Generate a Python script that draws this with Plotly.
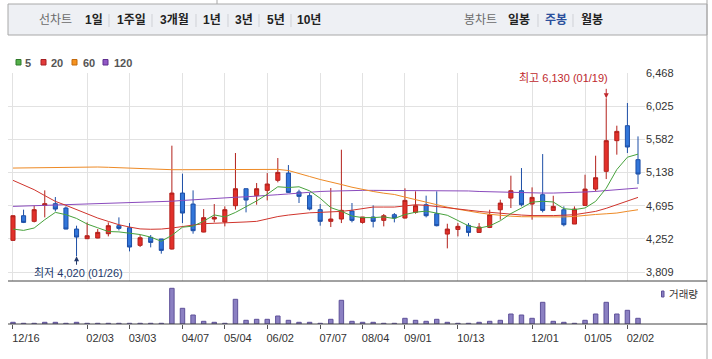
import plotly.graph_objects as go

# ---------------- data ----------------
weeks = list(range(60))
tick_idx = [0, 7, 11, 16, 20, 24, 29, 33, 37, 42, 49, 54, 58]
tick_text = ["12/16", "02/03", "03/03", "04/07", "05/04", "06/02", "07/07",
             "08/04", "09/01", "10/13", "12/01", "01/05", "02/02"]

opens = [4232, 4561, 4486, 4699, 4722, 4664, 4383, 4254, 4263, 4321,
         4428, 4401, 4165, 4272, 4250, 4116, 4864, 4717, 4343, 4517,
         4477, 4695, 4922, 4829, 4900, 5034, 5131, 4878, 4829, 4642,
         4486, 4517, 4624, 4472, 4544, 4499, 4575, 4530, 4606, 4708,
         4588, 4316, 4378, 4432, 4338, 4405, 4641, 4797, 4895, 4717,
         4842, 4632, 4641, 4450, 4699, 4917, 5154, 5564, 5764, 5310]
highs = [4565, 4642, 4695, 4900, 4811, 4686, 4428, 4472, 4383, 4472,
         4539, 4463, 4303, 4303, 4250, 5497, 5123, 4900, 4650, 4717,
         4686, 5399, 4922, 4998, 5131, 5332, 5238, 4909, 4864, 4717,
         4931, 5443, 4731, 4544, 4700, 4584, 4597, 4927, 4887, 4829,
         4887, 4454, 4463, 4463, 4463, 4641, 4775, 5096, 5198, 4940,
         5385, 4828, 4686, 4686, 5109, 5363, 6130, 5764, 6067, 5621]
lows = [4225, 4463, 4472, 4539, 4619, 4380, 4020, 4250, 4260, 4285,
        4365, 4085, 4143, 4138, 4054, 4110, 4463, 4321, 4340, 4472,
        4419, 4642, 4606, 4708, 4766, 5007, 4864, 4731, 4633, 4428,
        4410, 4463, 4472, 4455, 4405, 4419, 4472, 4525, 4588, 4539,
        4419, 4125, 4285, 4285, 4335, 4396, 4508, 4664, 4686, 4508,
        4606, 4630, 4419, 4450, 4699, 4886, 5051, 5377, 5399, 4984]
closes = [4561, 4472, 4642, 4722, 4650, 4383, 4276, 4294, 4339, 4428,
          4392, 4143, 4267, 4205, 4098, 4864, 4597, 4361, 4535, 4539,
          4642, 4922, 4771, 4922, 4985, 5140, 4873, 4820, 4650, 4486,
          4517, 4633, 4499, 4544, 4486, 4561, 4530, 4766, 4695, 4561,
          4428, 4383, 4419, 4338, 4410, 4575, 4730, 4895, 4708, 4806,
          4632, 4686, 4441, 4650, 4917, 5069, 5564, 5688, 5479, 5118]

ma5 = [4383, 4365, 4397, 4508, 4606, 4575, 4525, 4450, 4400, 4350,
       4345, 4325, 4310, 4275, 4220, 4300, 4408, 4422, 4488, 4572,
       4545, 4605, 4682, 4759, 4848, 4948, 4938, 4948, 4894, 4794,
       4669, 4621, 4557, 4536, 4536, 4545, 4524, 4577, 4608, 4623,
       4596, 4567, 4497, 4426, 4396, 4425, 4494, 4590, 4664, 4743,
       4754, 4745, 4655, 4643, 4665, 4753, 4928, 5178, 5343, 5384]
ma20 = [5034, 4970, 4909, 4830, 4753, 4700, 4642, 4585, 4530, 4485,
        4441, 4410, 4385, 4380, 4383, 4397, 4419, 4437, 4455, 4460,
        4463, 4472, 4478, 4486, 4520, 4550, 4570, 4590, 4600, 4606,
        4612, 4619, 4635, 4655, 4677, 4677, 4677, 4692, 4708, 4700,
        4686, 4668, 4650, 4635, 4619, 4605, 4592, 4580, 4570, 4563,
        4561, 4563, 4568, 4575, 4597, 4619, 4660, 4708, 4757, 4806]
ma60 = [5198, 5200, 5203, 5206, 5208, 5210, 5212, 5212, 5212, 5208,
        5203, 5198, 5190, 5180, 5176, 5176, 5176, 5176, 5176, 5176,
        5178, 5180, 5183, 5185, 5185, 5180, 5165, 5130, 5085, 5045,
        5015, 4978, 4942, 4909, 4885, 4862, 4845, 4810, 4775, 4740,
        4710, 4675, 4648, 4620, 4600, 4580, 4565, 4555, 4548, 4545,
        4543, 4543, 4545, 4552, 4570, 4578, 4587, 4597, 4620, 4641]
ma120 = [4686, 4690, 4695, 4700, 4705, 4709, 4713, 4717, 4721, 4725,
         4729, 4731, 4738, 4745, 4750, 4755, 4765, 4775, 4785, 4795,
         4800, 4808, 4814, 4820, 4830, 4842, 4852, 4865, 4875, 4885,
         4890, 4895, 4898, 4900, 4900, 4900, 4900, 4900, 4900, 4900,
         4900, 4898, 4895, 4892, 4885, 4880, 4876, 4872, 4868, 4865,
         4864, 4864, 4866, 4870, 4878, 4886, 4895, 4907, 4919, 4931]

volume = [17, 7, 7, 17, 17, 7, 17, 7, 7, 7,
          7, 7, 7, 7, 7, 357, 157, 90, 27, 17,
          7, 247, 37, 47, 47, 80, 37, 17, 17, 7,
          47, 237, 27, 17, 17, 7, 7, 57, 37, 27,
          47, 17, 7, 7, 17, 27, 37, 100, 90, 57,
          217, 27, 17, 7, 37, 100, 217, 100, 137, 57]

y_ticks = [3809, 4252, 4695, 5138, 5582, 6025, 6468]
y_tick_text = ["3,809", "4,252", "4,695", "5,138", "5,582", "6,025", "6,468"]

ma_names = ["5", "20", "60", "120"]
ma_colors = ["#47a23c", "#d0342c", "#ee8a25", "#8a4bbd"]
ma_fill = ["#55b04a", "#e23a3a", "#f5921f", "#9258c6"]
ma_edge = ["#2f7a2a", "#a51f22", "#c26a0c", "#5f2f8f"]

toolbar_left = ["1일", "1주일", "3개월", "1년", "3년", "5년", "10년"]
toolbar_right = ["일봉", "주봉", "월봉"]

# ---------------- layout helpers ----------------
W, H = 712, 359
L, R, T, B = 8, 67, 73, 35
PW = W - L - R
PH = H - T - B


def fx(x):
    return (x - L) / PW


def fy(y):
    return (H - B - y) / PH


split = fy(281)
FONT = "Liberation Sans, Arial, Noto Sans CJK KR"
KFONT = "Liberation Sans, Noto Sans CJK KR"

fig = go.Figure()

for vals, col in zip([ma120, ma60, ma20, ma5], ma_colors[::-1]):
    fig.add_trace(go.Scatter(x=weeks, y=vals, mode="lines",
                             line=dict(color=col, width=1),
                             xaxis="x", yaxis="y", hoverinfo="skip"))

fig.add_trace(go.Candlestick(
    x=weeks, open=opens, high=highs, low=lows, close=closes,
    increasing=dict(line=dict(color="#b3201b", width=1), fillcolor="#e2302a"),
    decreasing=dict(line=dict(color="#1d4fa6", width=1), fillcolor="#3276da"),
    whiskerwidth=0, xaxis="x", yaxis="y"))

fig.add_trace(go.Bar(x=weeks, y=volume, width=0.42,
                     marker=dict(color="#8b80c2", line=dict(color="#5e5199", width=1)),
                     xaxis="x2", yaxis="y2", hoverinfo="skip"))

xr = [-0.47, 59.66]
fig.update_layout(
    template="none",
    width=W, height=H,
    margin=dict(l=L, r=R, t=T, b=B, pad=0),
    paper_bgcolor="white", plot_bgcolor="white",
    showlegend=False,
    boxgap=0.45,
    xaxis=dict(domain=[0, 1], anchor="y", range=xr, tickmode="array",
               tickvals=tick_idx, showticklabels=False, showgrid=True,
               gridcolor="#e2e2e2", gridwidth=1, zeroline=False, ticks="",
               showline=False, automargin=False,
               rangeslider=dict(visible=False)),
    yaxis=dict(domain=[split, 1], anchor="x", side="right", range=[3689, 6468],
               tickmode="array", tickvals=y_ticks, ticktext=y_tick_text,
               showgrid=True, gridcolor="#e2e2e2", zeroline=False, ticks="",
               showline=False, automargin=False,
               tickfont=dict(family=FONT, size=11, color="#333333")),
    xaxis2=dict(domain=[0, 1], anchor="y2", range=xr, tickmode="array",
                tickvals=tick_idx, ticktext=tick_text, ticks="outside", ticklen=4,
                tickcolor="#555555", showgrid=False, zeroline=False,
                showline=False, automargin=False,
                ticklabelshift=13,
                tickfont=dict(family=FONT, size=11, color="#333333")),
    yaxis2=dict(domain=[0, split], anchor="x2", range=[0, 430], visible=False,
                automargin=False),
)

shapes = []
# toolbar box
shapes.append(dict(type="rect", xref="paper", yref="paper", x0=fx(8), x1=fx(707),
                   y0=fy(35), y1=fy(4), fillcolor="#eef0f4",
                   line=dict(color="#a8a8a8", width=1), layer="below"))
shapes.append(dict(type="line", xref="paper", yref="paper", x0=fx(217), x1=fx(217),
                   y0=fy(0), y1=fy(4), line=dict(color="#a8a8a8", width=1)))
# outer right border
shapes.append(dict(type="line", xref="paper", yref="paper", x0=fx(707), x1=fx(707),
                   y0=fy(359), y1=fy(0), line=dict(color="#a8a8a8", width=1)))
# pane separators
for yy in (281, 324):
    shapes.append(dict(type="line", xref="paper", yref="paper", x0=fx(8), x1=fx(707),
                       y0=fy(yy), y1=fy(yy), line=dict(color="#454545", width=1)))
# toolbar separators
for sx in (109, 152, 196, 228, 259, 291, 538, 573):
    shapes.append(dict(type="line", xref="paper", yref="paper", x0=fx(sx), x1=fx(sx),
                       y0=fy(27), y1=fy(14), line=dict(color="#cfd1d6", width=1)))
# MA legend squares
for sx, fc, ec in zip((16, 41, 72, 103), ma_fill, ma_edge):
    shapes.append(dict(type="rect", xref="paper", yref="paper", x0=fx(sx), x1=fx(sx + 5),
                       y0=fy(65), y1=fy(59.5), fillcolor=fc, line=dict(color=ec, width=1)))
# volume legend mark
shapes.append(dict(type="rect", xref="paper", yref="paper", x0=fx(661.5), x1=fx(664),
                   y0=fy(297), y1=fy(291), fillcolor="#8b80c2",
                   line=dict(color="#5e5199", width=1)))
fig.update_layout(shapes=shapes)

ann = []


def txt(x, y, s, size=12, color="#222", anchor="center"):
    ann.append(dict(xref="paper", yref="paper", x=fx(x), y=fy(y), text=s,
                    showarrow=False, xanchor=anchor, yanchor="middle",
                    font=dict(family=KFONT, size=size, color=color)))


txt(56, 20, "선차트", 12, "#6b6b6b")
for cx, s in zip((94, 131, 174, 211.5, 243.5, 275.5, 309), toolbar_left):
    txt(cx, 20, "<b>" + s + "</b>", 12, "#222222")
txt(480, 20, "봉차트", 12, "#6b6b6b")
for cx, s in zip((519, 555.5, 592), toolbar_right):
    col = "#2b4f9c" if s == "주봉" else "#222222"
    txt(cx, 20, "<b>" + s + "</b>", 12, col)

for lx, s in zip((23, 49, 80.5, 112), ma_names):
    txt(lx, 62.5, "<b>" + s + "</b>", 11, "#555555", "left")
txt(666.5, 294, "거래량", 10.5, "#333333", "left")

# highest / lowest markers
hi_i = highs.index(max(highs))
lo_i = lows.index(min(lows))
ann.append(dict(xref="x", yref="y", x=weeks[hi_i], y=highs[hi_i],
                text="최고 {:,} (01/19)".format(highs[hi_i]), showarrow=False,
                xanchor="right", yanchor="middle", xshift=4, yshift=20.5,
                font=dict(family=KFONT, size=11, color="#c0282d")))
ann.append(dict(xref="x", yref="y", x=weeks[hi_i], y=highs[hi_i], text="",
                showarrow=True, ax=0, ay=-11, arrowhead=2, arrowsize=1,
                arrowwidth=1, arrowcolor="#c0282d"))
ann.append(dict(xref="x", yref="y", x=weeks[lo_i], y=lows[lo_i],
                text="최저 {:,} (01/26)".format(lows[lo_i]), showarrow=False,
                xanchor="center", yanchor="middle", xshift=1.5, yshift=-16.5,
                font=dict(family=KFONT, size=11, color="#22386a")))
ann.append(dict(xref="x", yref="y", x=weeks[lo_i], y=lows[lo_i], text="",
                showarrow=True, ax=0, ay=10, arrowhead=2, arrowsize=1,
                arrowwidth=1, arrowcolor="#22386a"))
fig.update_layout(annotations=ann)

fig.write_html("out.html",
               config={"displayModeBar": False, "staticPlot": False},
               post_script="document.body.style.margin='0px';"
                           "document.body.style.padding='0px';"
                           "document.body.style.overflow='hidden';")
